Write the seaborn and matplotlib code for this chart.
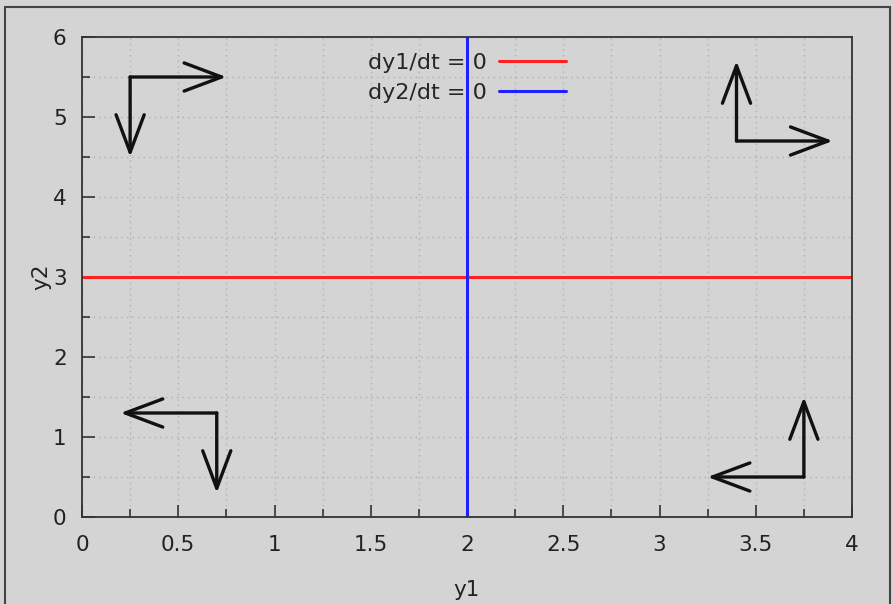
import matplotlib
matplotlib.use("Agg")
import matplotlib.pyplot as plt
import seaborn as sns
import pandas as pd
from matplotlib.patches import Rectangle
from matplotlib.ticker import MultipleLocator

# Nullclines
null1_y1 = [0.0, 4.0]
null1_y2 = [3.0, 3.0]
null2_y1 = [2.0, 2.0]
null2_y2 = [0.0, 6.0]
labels = ["dy1/dt = 0", "dy2/dt = 0"]

# Direction arrows: corner points and tips
arrow_corner_x = [0.25, 3.4, 0.7, 3.75]
arrow_corner_y = [5.5, 4.7, 1.3, 0.5]
arrow_hx_tip = [0.75, 3.9, 0.2, 3.25]   # horizontal arrow tips (x)
arrow_vy_tip = [4.5, 5.7, 0.3, 1.5]     # vertical arrow tips (y)

sns.set_theme(style="white")
plt.rcParams['font.family'] = ['DejaVu Sans']
bg = "#d4d4d4"

fig = plt.figure(figsize=(8.94, 6.04), dpi=100, facecolor=bg)
ax = fig.add_axes([82/894, 87/604, 770/894, 480/604])
ax.set_facecolor(bg)

df1 = pd.DataFrame({"y1": null1_y1, "y2": null1_y2})
df2 = pd.DataFrame({"y1": null2_y1, "y2": null2_y2})
sns.lineplot(data=df1, x="y1", y="y2", ax=ax, color="#ff2020", lw=2.2,
             estimator=None, sort=False, label=labels[0])
sns.lineplot(data=df2, x="y1", y="y2", ax=ax, color="#2020ff", lw=2.2,
             estimator=None, sort=False, label=labels[1])

aprops = dict(arrowstyle="->,head_length=2.0,head_width=0.75", color="#111111",
              lw=2.4, shrinkA=0, shrinkB=0, mutation_scale=13.5)
for cx, cy, hx, vy in zip(arrow_corner_x, arrow_corner_y, arrow_hx_tip, arrow_vy_tip):
    ax.annotate("", xy=(hx, cy), xytext=(cx, cy), arrowprops=aprops)
    ax.annotate("", xy=(cx, vy), xytext=(cx, cy), arrowprops=aprops)

ax.set_xlim(0, 4)
ax.set_ylim(0, 6)
ax.xaxis.set_minor_locator(MultipleLocator(0.25))
ax.yaxis.set_minor_locator(MultipleLocator(0.5))
ax.set_xticks([0, 0.5, 1, 1.5, 2, 2.5, 3, 3.5, 4])
ax.set_xticklabels(["0", "0.5", "1", "1.5", "2", "2.5", "3", "3.5", "4"])
ax.set_yticks([0, 1, 2, 3, 4, 5, 6])
ax.set_yticklabels(["0", "1", "2", "3", "4", "5", "6"])

ax.grid(True, which="both", color="#b0b0b0", linestyle=(0, (1, 3)), lw=1.0)
ax.set_axisbelow(True)
ax.tick_params(which="both", direction="in", color="#333333", labelcolor="#222222",
               bottom=True, left=True, top=False, right=False)
ax.tick_params(axis="x", which="major", labelsize=15.5, pad=13)
ax.tick_params(axis="y", which="major", labelsize=15.5, pad=11)
ax.tick_params(which="major", length=9, width=1.2)
ax.tick_params(which="minor", length=6, width=1.2)
for s in ax.spines.values():
    s.set_color("#333333")
    s.set_linewidth(1.3)

ax.set_xlabel("y1", fontsize=15.5, color="#222222", labelpad=18)
ax.set_ylabel("y2", fontsize=15.5, color="#222222", labelpad=1)

ax.legend(loc="upper center", bbox_to_anchor=(0.50, 0.985), frameon=False,
          markerfirst=False, fontsize=16, handlelength=3.0, handletextpad=0.55,
          labelspacing=0.45, borderaxespad=0)

fig.patches.append(Rectangle((5/894, -0.01), 885/894, 1 - 7/604 + 0.01,
                             transform=fig.transFigure, fill=False,
                             edgecolor="#444444", lw=1.5))

fig.savefig("out.png", dpi=100, facecolor=bg)
